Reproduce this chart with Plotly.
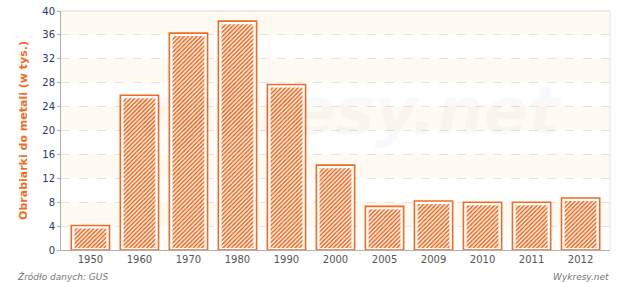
import plotly.graph_objects as go

years = ["1950", "1960", "1970", "1980", "1990", "2000", "2005", "2009", "2010", "2011", "2012"]
values = [4.1, 25.9, 36.3, 38.3, 27.7, 14.2, 7.3, 8.2, 8.0, 8.0, 8.7]
y_ticks = [0, 4, 8, 12, 16, 20, 24, 28, 32, 36, 40]

ORANGE = "#f26b21"
FONT = "DejaVu Sans"

# inner hatched bar inset (in value units)
inset_top = 0.5
inset_bottom = 0.33
inner_len = [v - inset_top - inset_bottom for v in values]

fig = go.Figure()
fig.add_trace(go.Bar(
    x=years, y=values, width=0.78,
    marker=dict(color="white", line=dict(color=ORANGE, width=1.6)),
    hoverinfo="skip", showlegend=False,
))
fig.add_trace(go.Bar(
    x=years, y=inner_len, base=inset_bottom, width=0.65,
    marker=dict(color="white", line=dict(width=0),
                pattern=dict(shape="/", fgcolor=ORANGE, bgcolor="white", size=3,
                             solidity=0.55, fgopacity=1)),
    hoverinfo="skip", showlegend=False,
))

shapes = []
for lo in [4, 12, 20, 28, 36]:
    shapes.append(dict(type="rect", xref="paper", x0=0, x1=1, yref="y", y0=lo, y1=lo + 4,
                       fillcolor="#fffbf2", line=dict(width=0), layer="below"))
shapes.append(dict(type="line", xref="paper", x0=0, x1=1, yref="paper", y0=1, y1=1,
                   line=dict(color="#e2e2e2", width=1.5)))
shapes.append(dict(type="line", xref="paper", x0=1, x1=1, yref="paper", y0=0, y1=1,
                   line=dict(color="#e6e6e6", width=1)))

fig.update_layout(
    width=620, height=282,
    margin=dict(l=61, r=10, t=11, b=32, autoexpand=False),
    paper_bgcolor="white", plot_bgcolor="white",
    barmode="overlay",
    font=dict(family=FONT, size=10),
    shapes=shapes,
    xaxis=dict(
        type="category", range=[-0.6, 10.6], showgrid=False, showline=True,
        linecolor="#b0b0b0", linewidth=1,
        ticks="", tickfont=dict(color="#555555", size=10, family=FONT), automargin=False,
    ),
    yaxis=dict(
        range=[0, 40], tickvals=y_ticks, showgrid=True, gridcolor="#e4e4e4", griddash="dash",
        gridwidth=1, zeroline=False, showline=True, linecolor="#b0b0b0", linewidth=1,
        ticks="outside", ticklen=3, tickcolor="#b0b0b0", automargin=False,
        tickfont=dict(color="#1e3a66", size=10, family=FONT),
        title=dict(text="<b>Obrabiarki do metali (w tys.)</b>", font=dict(color=ORANGE, size=11, family=FONT), standoff=12),
    ),
    annotations=[
        dict(text="<b><i>wykresy.net</i></b>", xref="paper", yref="paper", x=0.5, y=0.58,
             showarrow=False, font=dict(size=66, color="rgba(0,0,0,0.025)", family=FONT)),
        dict(text="<i>Źródło danych: GUS</i>", xref="paper", yref="paper", x=-0.083, y=-0.112,
             xanchor="left", yanchor="middle", showarrow=False,
             font=dict(size=9, color="#777777", family=FONT)),
        dict(text="<i>Wykresy.net</i>", xref="paper", yref="paper", x=1.002, y=-0.112,
             xanchor="right", yanchor="middle", showarrow=False,
             font=dict(size=9, color="#777777", family=FONT)),
    ],
)

fig.write_html("out.html")
